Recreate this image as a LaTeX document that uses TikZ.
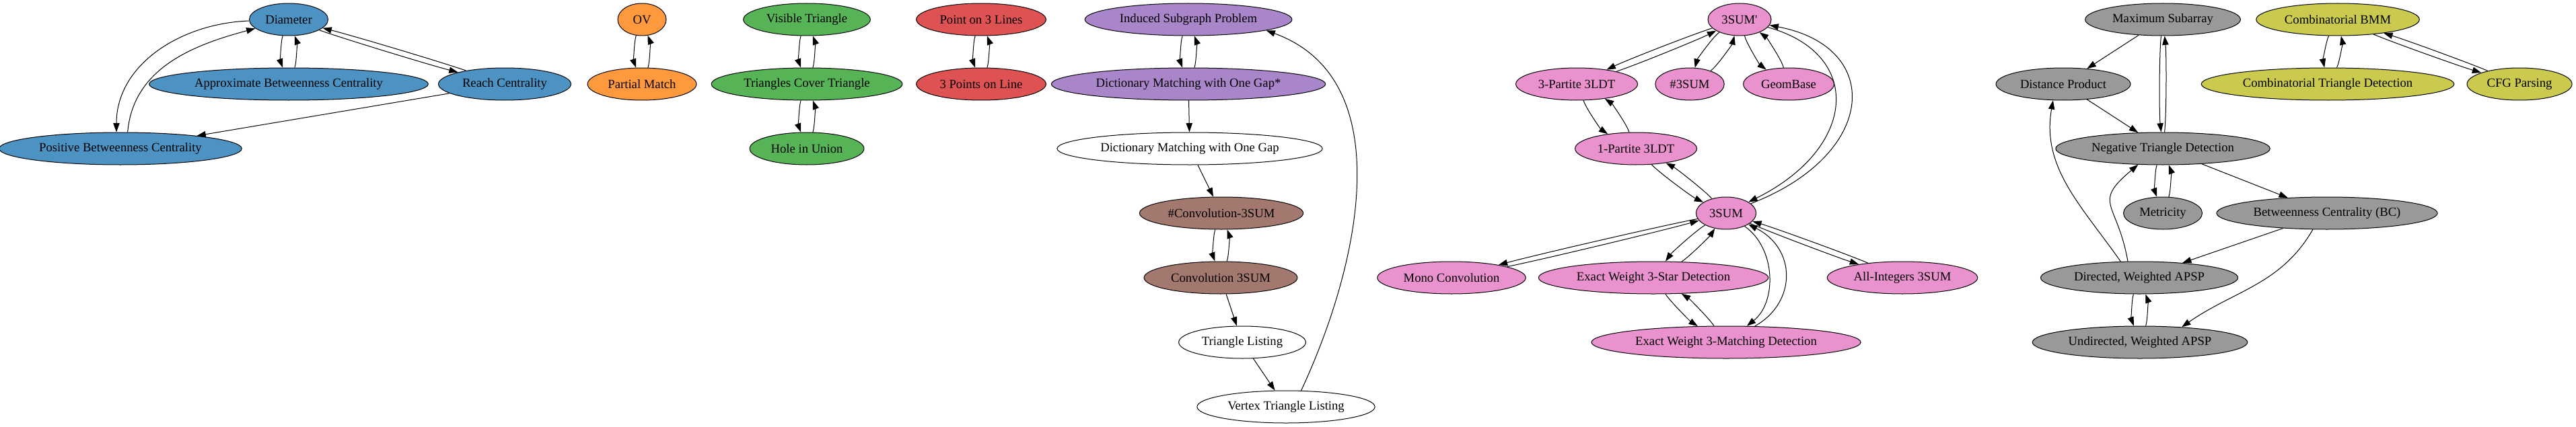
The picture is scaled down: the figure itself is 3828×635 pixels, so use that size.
\documentclass[tikz,border=0pt]{standalone}
\usepackage{fontspec}
\setmainfont{Liberation Serif}
\usetikzlibrary{shapes.geometric,arrows.meta}

\definecolor{tblue}{RGB}{76,146,195}
\definecolor{torange}{RGB}{255,153,62}
\definecolor{tgreen}{RGB}{86,179,86}
\definecolor{tred}{RGB}{222,82,83}
\definecolor{tpurple}{RGB}{169,133,202}
\definecolor{tbrown}{RGB}{163,120,111}
\definecolor{tpink}{RGB}{233,146,206}
\definecolor{tgray}{RGB}{153,153,153}
\definecolor{tolive}{RGB}{201,202,78}

\tikzset{
  prob/.style={draw, ellipse, line width=0.75pt, inner xsep=5pt, inner ysep=0pt,
    minimum width=54pt, minimum height=36pt, font=\fontsize{14}{16}\selectfont},
  redu/.style={-{Triangle[length=10pt,width=7pt]}, line width=0.75pt},
  twin/.style={redu, bend right=#1, looseness=0.5},
  twin/.default=20,
}

\begin{document}
\begin{tikzpicture}[x=0.75pt,y=0.75pt]
\useasboundingbox (0,0) rectangle (3828,-635);

% distances
\node[prob,fill=tblue] (diam) at (429,-29) {Diameter};
\node[prob,fill=tblue] (abc) at (429,-125) {Approximate Betweenness Centrality};
\node[prob,fill=tblue] (reach) at (750,-125) {Reach Centrality};
\node[prob,fill=tblue] (pbc) at (179,-221) {Positive Betweenness Centrality};

% ov
\node[prob,fill=torange] (ov) at (954,-29) {OV};
\node[prob,fill=torange] (pm) at (954,-125) {Partial Match};

% geometry
\node[prob,fill=tgreen] (vt) at (1199,-29) {Visible Triangle};
\node[prob,fill=tgreen] (tct) at (1199,-125) {Triangles Cover Triangle};
\node[prob,fill=tgreen] (hiu) at (1199,-221) {Hole in Union};
\node[prob,fill=tred] (p3l) at (1458,-29) {Point on 3 Lines};
\node[prob,fill=tred] (p3p) at (1458,-125) {3 Points on Line};

% strings and listing
\node[prob,fill=tpurple] (isp) at (1766,-29) {Induced Subgraph Problem};
\node[prob,fill=tpurple] (dmstar) at (1766,-125) {Dictionary Matching with One Gap*};
\node[prob] (dm) at (1768,-221) {Dictionary Matching with One Gap};
\node[prob,fill=tbrown] (cconv) at (1815,-317) {\#Convolution-3SUM};
\node[prob,fill=tbrown] (conv) at (1814,-413) {Convolution 3SUM};
\node[prob] (tl) at (1846,-509) {Triangle Listing};
\node[prob] (vtl) at (1911,-605) {Vertex Triangle Listing};

% 3sum
\node[prob,fill=tpink] (s3p) at (2585,-29) {3SUM\textquotesingle};
\node[prob,fill=tpink] (p3) at (2343,-125) {3-Partite 3LDT};
\node[prob,fill=tpink] (c3) at (2511,-125) {\#3SUM};
\node[prob,fill=tpink] (geo) at (2658,-125) {GeomBase};
\node[prob,fill=tpink] (p1) at (2431,-221) {1-Partite 3LDT};
\node[prob,fill=tpink] (s3) at (2565,-317) {3SUM};
\node[prob,fill=tpink] (mono) at (2157,-413) {Mono Convolution};
\node[prob,fill=tpink] (star) at (2457,-413) {Exact Weight 3-Star Detection};
\node[prob,fill=tpink] (allint) at (2827,-413) {All-Integers 3SUM};
\node[prob,fill=tpink] (match) at (2565,-509) {Exact Weight 3-Matching Detection};

% apsp
\node[prob,fill=tgray] (maxs) at (3214,-29) {Maximum Subarray};
\node[prob,fill=tgray] (dp) at (3066,-125) {Distance Product};
\node[prob,fill=tgray] (ntd) at (3214,-221) {Negative Triangle Detection};
\node[prob,fill=tgray] (met) at (3214,-317) {Metricity};
\node[prob,fill=tgray] (bc) at (3458,-317) {Betweenness Centrality (BC)};
\node[prob,fill=tgray] (dapsp) at (3179,-413) {Directed, Weighted APSP};
\node[prob,fill=tgray] (uapsp) at (3180,-509) {Undirected, Weighted APSP};

% bmm
\node[prob,fill=tolive] (cbmm) at (3474,-29) {Combinatorial BMM};
\node[prob,fill=tolive] (ctd) at (3459,-125) {Combinatorial Triangle Detection};
\node[prob,fill=tolive] (cfg) at (3744,-125) {CFG Parsing};

% both ways
\draw[twin] (diam) to (abc);
\draw[twin] (abc) to (diam);
\draw[twin=2.5] (diam) to (reach);
\draw[twin=2.5] (reach) to (diam);
\draw[twin] (ov) to (pm);
\draw[twin] (pm) to (ov);
\draw[twin] (vt) to (tct);
\draw[twin] (tct) to (vt);
\draw[twin] (tct) to (hiu);
\draw[twin] (hiu) to (tct);
\draw[twin] (p3l) to (p3p);
\draw[twin] (p3p) to (p3l);
\draw[twin] (isp) to (dmstar);
\draw[twin] (dmstar) to (isp);
\draw[twin] (cconv) to (conv);
\draw[twin] (conv) to (cconv);
\draw[twin=4] (s3p) to (p3);
\draw[twin=4] (p3) to (s3p);
\draw[twin] (s3p) to (c3);
\draw[twin] (c3) to (s3p);
\draw[twin] (s3p) to (geo);
\draw[twin] (geo) to (s3p);
\draw[twin] (p3) to (p1);
\draw[twin] (p1) to (p3);
\draw[twin=10] (p1) to (s3);
\draw[twin=10] (s3) to (p1);
\draw[twin=2] (s3) to (mono);
\draw[twin=2] (mono) to (s3);
\draw[twin=12] (s3) to (star);
\draw[twin=12] (star) to (s3);
\draw[twin=12] (star) to (match);
\draw[twin=12] (match) to (star);
\draw[twin=3] (s3) to (allint);
\draw[twin=3] (allint) to (s3);
\draw[twin=6] (maxs) to (ntd);
\draw[twin=6] (ntd) to (maxs);
\draw[twin] (ntd) to (met);
\draw[twin] (met) to (ntd);
\draw[twin] (dapsp) to (uapsp);
\draw[twin] (uapsp) to (dapsp);
\draw[twin] (cbmm) to (ctd);
\draw[twin] (ctd) to (cbmm);
\draw[twin=3] (cbmm) to (cfg);
\draw[twin=3] (cfg) to (cbmm);

% one way
\draw[redu] (reach) -- (pbc);
\draw[redu] (dmstar) -- (dm);
\draw[redu] (dm) -- (cconv);
\draw[redu] (conv) -- (tl);
\draw[redu] (tl) -- (vtl);
\draw[redu] (maxs) -- (dp);
\draw[redu] (dp) -- (ntd);
\draw[redu] (ntd) -- (bc);
\draw[redu] (bc) -- (dapsp);

% curved ones
\draw[redu] (diam) to[out=182,in=90] ([xshift=-4.5pt]pbc.north);
\draw[redu] ([xshift=8pt]pbc.north) to[out=85,in=195] (diam);
\draw[redu] (vtl.47) to[out=65,in=-20] (isp.-8);
\draw[redu] (s3p) .. controls (2770,-80) and (2760,-220) .. (s3);
\draw[redu] (s3) .. controls (2790,-230) and (2800,-70) .. (s3p);
\draw[redu] (s3) .. controls (2640,-370) and (2640,-450) .. (match);
\draw[redu] (match) .. controls (2670,-450) and (2670,-370) .. (s3);
\draw[redu] (dapsp.125) to[out=100,in=-140,looseness=1.6] (ntd.-147);
\draw[redu] (dapsp.139) to[out=125,in=-100] (dp.-122);
\draw[redu] (bc.-131) to[out=-120,in=35] (uapsp.20);
\end{tikzpicture}
\end{document}
